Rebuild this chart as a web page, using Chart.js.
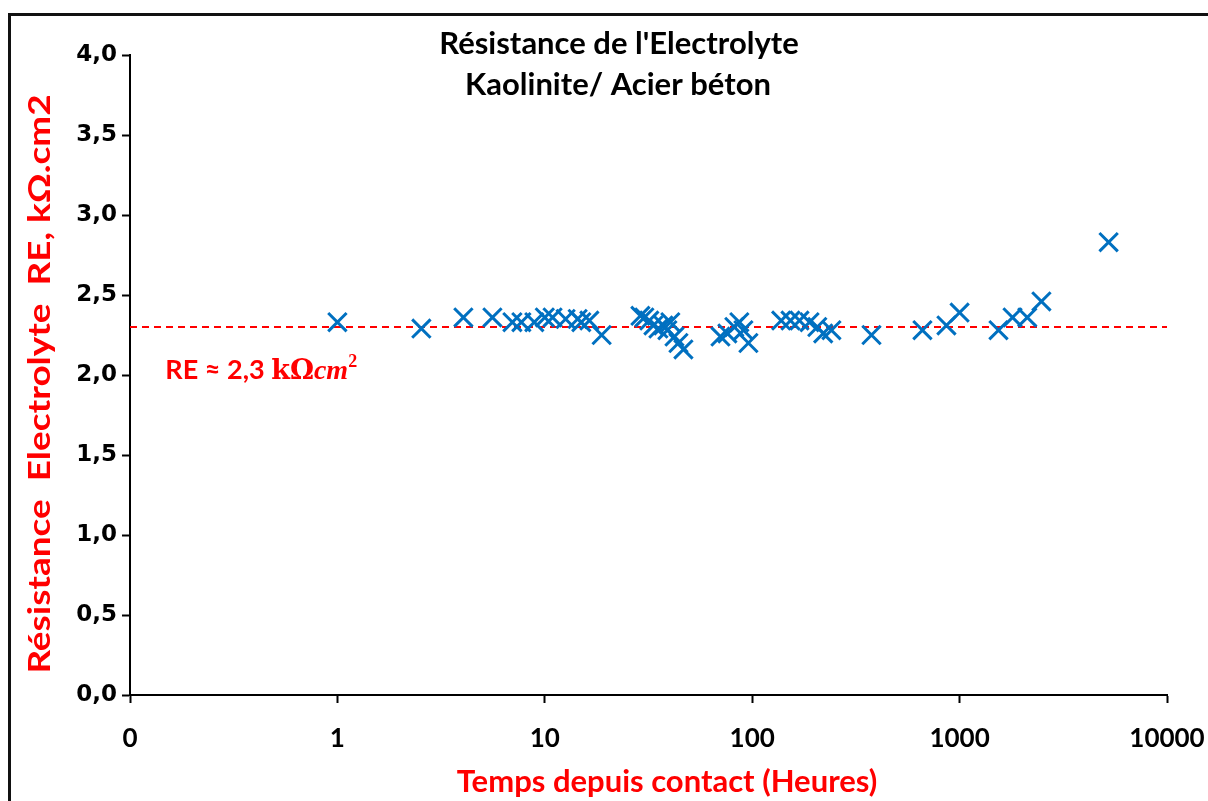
<!DOCTYPE html>
<html>
<head>
<meta charset="utf-8">
<script src="https://cdn.jsdelivr.net/npm/chart.js@4"></script>
<style>
    html, body { margin: 0; padding: 0; background: #fff; }
    canvas { display: block; }
</style>
</head>
<body>
<canvas id="myChart" width="1208" height="801"></canvas>
<script>
"use strict";

let Chart = window.Chart;

// time since contact (hours) and electrolyte resistance (kOhm.cm2)
const hours = [
    1.0, 2.54, 4.05, 5.59, 6.98, 7.71, 8.9, 10.0, 10.9, 12.6, 14.4, 15.0, 16.4, 18.8,
    28.9, 30.2, 31.9, 33.4, 35.3, 37.3, 39.0, 40.3, 42.2, 44.1, 46.6,
    70.3, 75.9, 82.0, 86.7, 90.7, 95.9,
    138, 153, 169, 189, 206, 220, 241, 376,
    662, 864, 1000, 1540, 1800, 2120, 2480, 5230
];
const resistance = [
    2.33, 2.29, 2.36, 2.36, 2.33, 2.33, 2.33, 2.36, 2.36, 2.35, 2.35, 2.33, 2.34, 2.25,
    2.37, 2.36, 2.34, 2.31, 2.29, 2.31, 2.28, 2.33, 2.24, 2.20, 2.16,
    2.24, 2.26, 2.30, 2.33, 2.28, 2.20,
    2.34, 2.34, 2.34, 2.33, 2.30, 2.26, 2.28, 2.25,
    2.28, 2.31, 2.39, 2.28, 2.36, 2.36, 2.46, 2.83
];
const reMean = 2.3;
const xTickValues = [0.1, 1, 10, 100, 1000, 10000];
const xTickLabels = ['0', '1', '10', '100', '1000', '10000'];

const titleLines = ["Résistance de l'Electrolyte", 'Kaolinite/ Acier béton'];
const xTitle = 'Temps depuis contact (Heures)';
const yTitle = 'Résistance  Electrolyte  RE, kΩ.cm2';

const blue = '#0070C0';
const red = '#FF0000';
const labelFont = 'Lato, "Open Sans", sans-serif';

const points = hours.map((h, i) => ({x: h, y: resistance[i]}));
const meanLine = [
    {x: xTickValues[0], y: reMean},
    {x: xTickValues[xTickValues.length - 1], y: reMean}
];

// frame, titles and the "RE ≈ 2,3" note
const decorations = {
    id: 'decorations',
    beforeDraw(chart) {
        const ctx = chart.ctx;
        ctx.save();
        ctx.fillStyle = '#fff';
        ctx.fillRect(0, 0, chart.width, chart.height);
        ctx.strokeStyle = '#111';
        ctx.lineWidth = 3;
        ctx.beginPath();
        ctx.moveTo(9.5, chart.height);
        ctx.lineTo(9.5, 14.5);
        ctx.lineTo(chart.width, 14.5);
        ctx.stroke();
        ctx.restore();
    },
    afterDraw(chart) {
        const ctx = chart.ctx;
        ctx.save();
        ctx.textAlign = 'center';
        ctx.textBaseline = 'middle';

        ctx.fillStyle = '#000';
        ctx.font = 'bold 31px ' + labelFont;
        ctx.fillText(titleLines[0], 619, 44);
        ctx.fillText(titleLines[1], 618, 85);

        ctx.fillStyle = red;
        ctx.font = 'bold 31px ' + labelFont;
        ctx.fillText(xTitle, 667, 782);

        // y title, stretched a little along its length
        ctx.save();
        ctx.translate(40, 384);
        ctx.rotate(-Math.PI / 2);
        ctx.scale(1.19, 1);
        ctx.font = 'bold 31px ' + labelFont;
        ctx.fillText(yTitle, 0, 0);
        ctx.restore();

        // note placed on the chart's own scales
        const xs = chart.scales.x;
        const ys = chart.scales.y;
        let px = xs.getPixelForValue(0.148);
        const py = ys.getPixelForValue(2.03);
        ctx.textAlign = 'left';
        ctx.textBaseline = 'alphabetic';
        const parts = [
            ['bold 27px ' + labelFont, 'RE ≈ 2,3 ', 0],
            ['bold 27px "DejaVu Serif", "Liberation Serif", serif', 'kΩ', 0],
            ['bold italic 28px "Liberation Serif", "DejaVu Serif", serif', 'cm', 0],
            ['bold 18px "Liberation Serif", "DejaVu Serif", serif', '2', -12]
        ];
        parts.forEach(([font, text, dy]) => {
            ctx.font = font;
            ctx.fillText(text, px, py + 9 + dy);
            px += ctx.measureText(text).width;
        });
        ctx.restore();
    }
};

function createDatasets() {
    return [{
        type: 'scatter',
        label: 'RE',
        data: points,
        showLine: false,
        pointStyle: 'crossRot',
        pointRadius: 13,
        pointHoverRadius: 13,
        borderWidth: 3,
        pointBorderWidth: 3,
        borderColor: blue,
        backgroundColor: blue,
        order: 1
    }, {
        type: 'line',
        label: 'RE moyen',
        data: meanLine,
        borderColor: red,
        borderWidth: 2,
        borderDash: [7, 5],
        pointRadius: 0,
        fill: false,
        order: 2
    }];
}

function createConfig(datasets) {
    return {
        type: 'scatter',
        data: {datasets},
        options: {
            responsive: false,
            animation: false,
            layout: {
                padding: {top: 55, right: 41, left: 0, bottom: 0}
            },
            plugins: {
                legend: {display: false},
                title: {display: false},
                tooltip: {enabled: false}
            },
            scales: {
                x: {
                    type: 'logarithmic',
                    min: 0.1,
                    max: 10000,
                    afterBuildTicks(scale) {
                        scale.ticks = xTickValues.map(value => ({value}));
                    },
                    afterFit(scale) {
                        scale.height = 106;
                        scale.paddingLeft = 0;
                        scale.paddingRight = 0;
                    },
                    ticks: {
                        autoSkip: false,
                        maxRotation: 0,
                        padding: 20,
                        color: '#000',
                        font: {family: labelFont, weight: 'bold', size: 26},
                        callback: (value, index) => xTickLabels[index]
                    },
                    grid: {
                        drawOnChartArea: false,
                        drawTicks: true,
                        tickLength: 8,
                        tickWidth: 2,
                        color: '#000'
                    },
                    border: {color: '#000', width: 2}
                },
                y: {
                    min: 0,
                    max: 4,
                    afterFit(scale) {
                        scale.width = 130;
                        scale.paddingTop = 0;
                        scale.paddingBottom = 0;
                    },
                    ticks: {
                        stepSize: 0.5,
                        padding: 5,
                        color: '#000',
                        font: {family: '"DejaVu Sans", Verdana, sans-serif', weight: 'bold', size: 23},
                        callback: value => value.toFixed(1).replace('.', ',')
                    },
                    grid: {
                        drawOnChartArea: false,
                        drawTicks: true,
                        tickLength: 8,
                        tickWidth: 2,
                        color: '#000'
                    },
                    border: {color: '#000', width: 2}
                }
            }
        },
        plugins: [decorations]
    };
}

Chart.defaults.font.family = labelFont;
const myChart = new Chart(
    document.getElementById('myChart'),
    createConfig(createDatasets())
);
</script>
</body>
</html>
